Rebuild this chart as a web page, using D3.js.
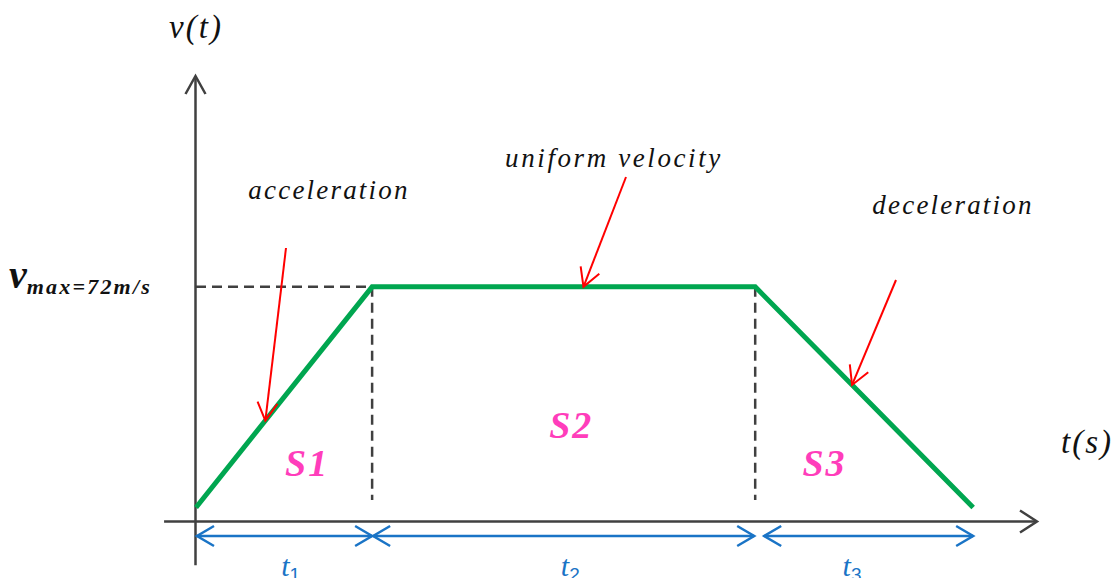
<!DOCTYPE html>
<html>
<head>
<meta charset="utf-8">
<script src="https://cdn.jsdelivr.net/npm/d3@7"></script>
<style>
  html, body { margin: 0; padding: 0; background: #fff; }
  svg { display: block; }
  .math { font-family: "Liberation Serif", "DejaVu Serif", serif; font-style: italic; }
</style>
</head>
<body>
<svg id="chart" width="1118" height="578"></svg>
<script>
// Trapezoidal velocity profile: accelerate, cruise, decelerate
const phaseTimes = [0, 8, 25.4, 35.3];          // breakpoints on the time axis
const phaseSpeeds = [4.3, 72, 72, 4.3];         // velocity at each breakpoint (m/s)
const vMax = 72;
const phaseNames = ["S1", "S2", "S3"];
const durationLabels = ["1", "2", "3"];
const phaseNotes = ["acceleration", "uniform velocity", "deceleration"];

const svg = d3.select("#chart");

const x = d3.scaleLinear().domain([0, 38.2]).range([196, 1037]);
const y = d3.scaleLinear().domain([0, 136.7]).range([521.5, 76]);

const axisColor = "#404040";
const green = "#00a650";
const red = "#ff0000";
const blue = "#1a74c6";
const pink = "#ff3dbb";

// open chevron head at (tx,ty) pointing along direction from (fx,fy)
function chevron(g, fx, fy, tx, ty, len, half, color, width) {
  const a = Math.atan2(ty - fy, tx - fx);
  const bx = tx - len * Math.cos(a), by = ty - len * Math.sin(a);
  const px = -Math.sin(a) * half, py = Math.cos(a) * half;
  g.append("path")
    .attr("d", `M${bx + px},${by + py}L${tx},${ty}L${bx - px},${by - py}`)
    .attr("fill", "none").attr("stroke", color).attr("stroke-width", width)
    .attr("stroke-linejoin", "miter");
}

function arrowLine(g, x1, y1, x2, y2, color, width, len, half) {
  g.append("line").attr("x1", x1).attr("y1", y1).attr("x2", x2).attr("y2", y2)
    .attr("stroke", color).attr("stroke-width", width);
  chevron(g, x1, y1, x2, y2, len, half, color, width);
}

// axes
const axes = svg.append("g");
arrowLine(axes, x(0) - 0.5, y(-13.4), x(0) - 0.5, y(136.7), axisColor, 2.5, 18, 10);
arrowLine(axes, x(-1.45), y(0), x(38.2), y(0), axisColor, 2.5, 17, 11);

// guide lines at the cruise speed and phase boundaries
const guides = svg.append("g").attr("stroke", axisColor).attr("stroke-width", 2.5)
  .attr("stroke-dasharray", "10,6");
guides.append("line").attr("x1", x(0)).attr("x2", x(phaseTimes[1]))
  .attr("y1", y(vMax)).attr("y2", y(vMax));
[phaseTimes[1], phaseTimes[2]].forEach(t => {
  guides.append("line").attr("x1", x(t)).attr("x2", x(t))
    .attr("y1", y(vMax)).attr("y2", y(6.6));
});

// velocity profile
const line = d3.line().x(d => x(d[0])).y(d => y(d[1]));
svg.append("path")
  .datum(d3.zip(phaseTimes, phaseSpeeds))
  .attr("d", line)
  .attr("fill", "none").attr("stroke", green).attr("stroke-width", 5)
  .attr("stroke-linejoin", "miter");

// axis titles
svg.append("text").attr("class", "math").attr("x", 196).attr("y", 38)
  .attr("text-anchor", "middle").attr("font-size", 33).attr("fill", "#111")
  .attr("letter-spacing", 2).text("v(t)");
svg.append("text").attr("class", "math").attr("x", 1087).attr("y", 453)
  .attr("text-anchor", "middle").attr("font-size", 33).attr("fill", "#111")
  .attr("letter-spacing", 2).text("t(s)");

// vmax label
const vm = svg.append("text").attr("class", "math").attr("x", 9).attr("y", y(vMax) + 1)
  .attr("font-weight", "bold").attr("fill", "#111");
vm.append("tspan").attr("font-size", 40).text("v");
vm.append("tspan").attr("font-size", 22).attr("dy", 6).attr("letter-spacing", 2.2)
  .text(`max=${vMax}m/s`);

// area labels
const areaPos = [[5.0, 14], [17.0, 25.5], [28.5, 14]];
svg.append("g").selectAll("text").data(phaseNames).join("text")
  .attr("class", "math")
  .attr("x", (d, i) => x(areaPos[i][0]) + 1)
  .attr("y", (d, i) => y(areaPos[i][1]))
  .attr("text-anchor", "middle").attr("font-size", 38).attr("font-weight", "bold")
  .attr("letter-spacing", 2)
  .attr("fill", pink).text(d => d);

// duration arrows
const dims = svg.append("g");
const dimY = 536;
const spans = [
  [x(phaseTimes[0]) + 1, x(phaseTimes[1])],
  [x(phaseTimes[1]) + 1, x(phaseTimes[2]) - 1],
  [x(phaseTimes[2]) + 9, x(phaseTimes[3])]
];
const durationLabelTimes = [4.3, 17.0, 29.8];
spans.forEach(([a, b]) => {
  dims.append("line").attr("x1", a).attr("x2", b).attr("y1", dimY).attr("y2", dimY)
    .attr("stroke", blue).attr("stroke-width", 2.5);
  chevron(dims, b, dimY, a, dimY, 17, 10, blue, 2.5);
  chevron(dims, a, dimY, b, dimY, 17, 10, blue, 2.5);
});
dims.selectAll("text").data(durationLabels).join("text")
  .attr("class", "math")
  .attr("x", (d, i) => x(durationLabelTimes[i]))
  .attr("y", 576).attr("text-anchor", "middle").attr("font-size", 30).attr("fill", blue)
  .call(t => {
    t.append("tspan").text("t");
    t.append("tspan").attr("font-size", 19).attr("font-style", "normal")
      .attr("font-family", "Liberation Sans, sans-serif")
      .attr("dy", 5).text(d => d);
  });

// annotation notes with pointer arrows
const notePos = [[329, 199], [614, 167], [953, 214]];
svg.append("g").selectAll("text").data(phaseNotes).join("text")
  .attr("class", "math")
  .attr("x", (d, i) => notePos[i][0]).attr("y", (d, i) => notePos[i][1])
  .attr("text-anchor", "middle").attr("font-size", 27).attr("fill", "#111")
  .attr("letter-spacing", (d, i) => i === 1 ? 2.6 : 2.2)
  .text(d => d);

// pointers: start point, then the time on the profile they land on
const pointers = [
  { from: [286, 248], t: 3.15 },
  { from: [626, 177], t: 17.6 },
  { from: [896, 280], t: 29.8 }
];
function speedAt(t) {
  for (let i = 0; i < phaseTimes.length - 1; i++) {
    if (t >= phaseTimes[i] && t <= phaseTimes[i + 1]) {
      const f = (t - phaseTimes[i]) / (phaseTimes[i + 1] - phaseTimes[i]);
      return phaseSpeeds[i] + f * (phaseSpeeds[i + 1] - phaseSpeeds[i]);
    }
  }
  return 0;
}
const ptr = svg.append("g");
pointers.forEach(p => {
  const tx = x(p.t), ty = y(speedAt(p.t));
  arrowLine(ptr, p.from[0], p.from[1], tx, ty, red, 2, 18, 10);
});
</script>
</body>
</html>
